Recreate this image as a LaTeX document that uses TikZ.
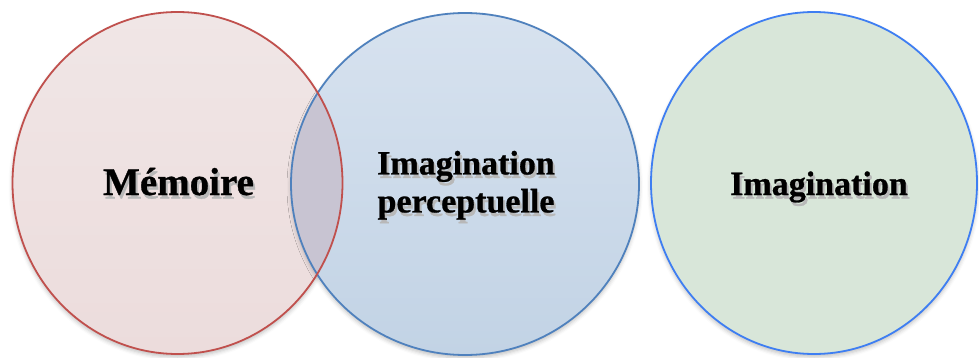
\documentclass[tikz,border=0pt]{standalone}
\usepackage{fontspec}
\setmainfont{Liberation Serif}[BoldFeatures={FakeBold=0.8}]
\usetikzlibrary{shapes.geometric, shadows.blur}

\definecolor{memline}{RGB}{192,80,77}
\definecolor{memtop}{RGB}{240,230,230}
\definecolor{membot}{RGB}{236,220,220}
\definecolor{percline}{RGB}{79,129,189}
\definecolor{perctop}{RGB}{215,226,239}
\definecolor{percbot}{RGB}{194,211,229}
\definecolor{imaline}{RGB}{62,126,242}
\definecolor{imafill}{RGB}{216,230,217}
\definecolor{lens}{RGB}{200,196,210}

\newcommand{\txtombre}[1]{\leavevmode
  \rlap{\hspace{2pt}\raisebox{-3.5pt}{\color{black!28}#1}}#1}

\begin{document}
\begin{tikzpicture}[
  x=1pt, y=-1pt,
  font=\bfseries\fontsize{34}{38}\selectfont,
  bulle/.style={ellipse, inner sep=0pt, minimum width=330pt, minimum height=342pt,
    blur shadow={shadow xshift=0pt, shadow yshift=-3pt, shadow blur radius=4pt, shadow opacity=25}},
  trait/.style={line width=1.8pt},
  txt/.style={inner sep=0pt, align=center, text=black}
]
\useasboundingbox (0,0) rectangle (979,358);
\node[bulle, top color=memtop, bottom color=membot] (m) at (177.5,183) {};
\node[bulle, minimum width=348pt, top color=perctop, bottom color=percbot] (p) at (465,184) {};
\node[bulle, minimum width=326pt, fill=imafill, draw=imaline, trait] (i) at (814,183) {};
\begin{scope}
  \clip (m.center) ellipse [x radius=165pt, y radius=171pt];
  \fill[lens] (p.center) ellipse [x radius=174pt, y radius=171pt];
\end{scope}
\draw[trait, draw=percline] (p.center) ellipse [x radius=174pt, y radius=171pt];
\draw[trait, draw=memline] (m.center) ellipse [x radius=165pt, y radius=171pt];

\node[txt, anchor=base, font=\bfseries\fontsize{39}{40}\selectfont] (tm) at (178.5,195) {\txtombre{Mémoire}};
\node[txt] (tp) at (466,187) {\txtombre{Imagination}\\\txtombre{perceptuelle}};
\node[txt, anchor=base] (ti) at (819,195) {\txtombre{Imagination}};
\end{tikzpicture}
\end{document}
